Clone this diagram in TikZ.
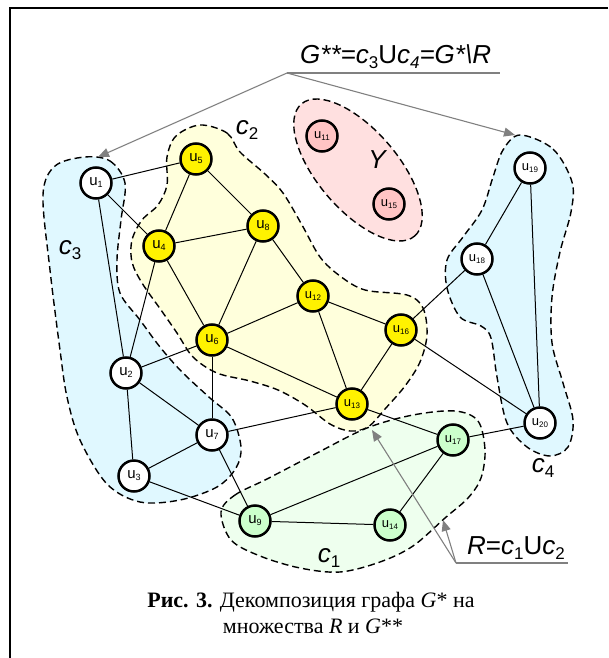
\documentclass[tikz,border=0pt]{standalone}
\usepackage{fontspec}
\setmainfont{Liberation Serif}
\setsansfont{Liberation Sans}
\usetikzlibrary{arrows.meta}
\definecolor{cyanfill}{HTML}{E0F8FF}
\definecolor{yelfill}{HTML}{FFFFDC}
\definecolor{pinkfill}{HTML}{FFE0E0}
\definecolor{pinknode}{HTML}{FFC4C4}
\definecolor{greenfill}{HTML}{EEFFEE}
\definecolor{greennode}{HTML}{CCFFCC}
\definecolor{arrgray}{HTML}{808080}
\newcommand{\ulab}[1]{{\fontsize{15}{15}\selectfont u}\raisebox{-2pt}{\fontsize{9}{9}\selectfont #1}}
\newcommand{\ulabb}[1]{{\fontsize{13}{13}\selectfont u}\raisebox{-2pt}{\fontsize{8}{8}\selectfont #1}}
\newcommand{\csub}[2]{{\itshape #1}\raisebox{-5pt}{\fontsize{17}{17}\selectfont #2}}
\begin{document}
\begin{tikzpicture}[x=1pt,y=-1pt,
  vtx/.style={circle,draw=black,line width=2.5pt,minimum size=31pt,inner sep=0pt,font=\sffamily},
  wv/.style={vtx,fill=white},
  yv/.style={vtx,fill=yellow},
  pv/.style={vtx,fill=pinknode},
  gv/.style={vtx,fill=greennode},
  blob/.style={draw=black,line width=1.4pt,dash pattern=on 7pt off 4pt},
  edge/.style={draw=black,line width=1pt},
  glabel/.style={font=\sffamily\fontsize{26}{26}\selectfont,inner sep=0pt},
  garrow/.style={draw=arrgray,line width=1.1pt,-{Triangle[length=11pt,width=9pt]}},
  gline/.style={draw=arrgray,line width=1.1pt}]
\useasboundingbox (0,0) rectangle (608,658);
% frame
\draw[line width=1.5pt] (608,8) -- (10,8) -- (10,658);
% blobs
\path[blob,fill=cyanfill] plot[smooth cycle,tension=0.55] coordinates {(85,157) (110,161) (125,183) (121,220) (117,260) (120,293) (140,320) (160,347) (182,372) (210,398) (232,418) (241,447) (236,468) (217,487) (180,500) (140,502) (107,484) (80,440) (67,397) (60,350) (50,270) (43,195) (55,166)};
\path[blob,fill=yelfill] plot[smooth cycle,tension=0.55] coordinates {(200,125) (227,133) (240,152) (265,174) (283,193) (302,225) (320,257) (340,276) (365,290) (407,295) (423,308) (427,335) (420,362) (405,386) (385,409) (368,427) (350,431) (330,424) (305,405) (278,390) (250,381) (217,373) (193,357) (177,333) (161,310) (142,283) (132,262) (132,240) (142,220) (158,205) (167,185) (167,157) (176,136)};
\path[blob,fill=cyanfill] plot[smooth cycle,tension=0.55] coordinates {(520,135) (553,149) (572,182) (571,212) (560,252) (552,297) (552,343) (563,383) (573,420) (568,447) (550,456) (527,447) (507,423) (497,377) (491,338) (481,326) (460,317) (447,288) (447,260) (463,237) (482,210) (493,177) (503,150)};
\path[blob,fill=greenfill] plot[smooth cycle,tension=0.55] coordinates {(221,512) (235,495) (267,479) (317,453) (367,428) (413,415) (455,411) (478,421) (485,450) (481,478) (468,498) (445,518) (413,546) (380,562) (340,572) (300,568) (260,556) (231,540)};
\path[blob,fill=pinkfill,rotate around={-49.4:(358,170)}] (358,170) ellipse [x radius=87pt,y radius=40pt];
% nodes
\node[wv] (u1) at (96,183) {\ulab{1}};
\node[yv] (u5) at (196,159) {\ulab{5}};
\node[yv] (u4) at (159,246) {\ulab{4}};
\node[yv] (u8) at (263,226) {\ulab{8}};
\node[yv] (u12) at (313,296) {\ulabb{12}};
\node[yv] (u6) at (212,340) {\ulab{6}};
\node[yv] (u16) at (401,330) {\ulabb{16}};
\node[wv] (u2) at (126,373) {\ulab{2}};
\node[yv] (u13) at (352,404) {\ulabb{13}};
\node[wv] (u7) at (212,435) {\ulab{7}};
\node[wv] (u3) at (134,476) {\ulab{3}};
\node[gv] (u9) at (255,521) {\ulab{9}};
\node[gv] (u14) at (390,525) {\ulabb{14}};
\node[gv] (u17) at (453,440) {\ulabb{17}};
\node[wv] (u20) at (540,423) {\ulabb{20}};
\node[wv] (u18) at (477,259) {\ulabb{18}};
\node[wv] (u19) at (530,168) {\ulabb{19}};
\node[pv] (u11) at (322,136) {\ulabb{11}};
\node[pv] (u15) at (389,204) {\ulabb{15}};
% edges
\foreach \a/\b in {u1/u5,u1/u4,u1/u2,u5/u4,u5/u8,u4/u8,u4/u6,u4/u2,u8/u6,u8/u12,u12/u6,u12/u16,u12/u13,u6/u13,u6/u2,u6/u7,u16/u13,u16/u18,u16/u20,u2/u7,u2/u3,u3/u7,u3/u9,u7/u13,u7/u9,u13/u17,u9/u17,u9/u14,u14/u17,u17/u20,u18/u19,u18/u20,u19/u20}
  \draw[edge] (\a) -- (\b);
% blob labels
\node[glabel] (lc2) at (247,130) {\csub{c}{2}};
\node[glabel] (lc3) at (70,250) {\csub{c}{3}};
\node[glabel] (lc4) at (543,468) {\csub{c}{4}};
\node[glabel] (lc1) at (329,558) {\csub{c}{1}};
\node[glabel] (lY) at (377,160) {\itshape Y};
% title label and arrows
\node[glabel,anchor=base west] (tG) at (300,64) {\itshape G**=c\raisebox{-5pt}{\fontsize{17}{17}\selectfont\upshape 3}\upshape U\itshape c\raisebox{-5pt}{\fontsize{17}{17}\selectfont 4}=G*\textbackslash R};
\coordinate (t0) at (287,73);
\coordinate (t1) at (500,73);
\coordinate (a1) at (98,157);
\coordinate (a2) at (515,135);
\draw[gline] (t0) -- (t1);
\draw[garrow] (t0) -- (a1);
\draw[garrow] (t0) -- (a2);
\node[glabel,anchor=base west] (tR) at (467,554) {\itshape R\upshape =\csub{c}{1}U\csub{c}{2}};
\coordinate (r0) at (456,563);
\coordinate (r1) at (568,563);
\coordinate (b1) at (443,520);
\coordinate (b2) at (372,430);
\draw[gline] (r0) -- (r1);
\draw[garrow] (r0) -- (b1);
\draw[garrow] (r0) -- (b2);
% caption
\node[font=\fontsize{22}{26}\selectfont,anchor=base,inner sep=0pt] (cap1) at (311,607) {\textbf{Рис. 3.} Декомпозиция графа \textit{G}* на};
\node[font=\fontsize{22}{26}\selectfont,anchor=base,inner sep=0pt] (cap2) at (313,633) {множества \textit{R} и \textit{G}**};
\end{tikzpicture}
\end{document}
